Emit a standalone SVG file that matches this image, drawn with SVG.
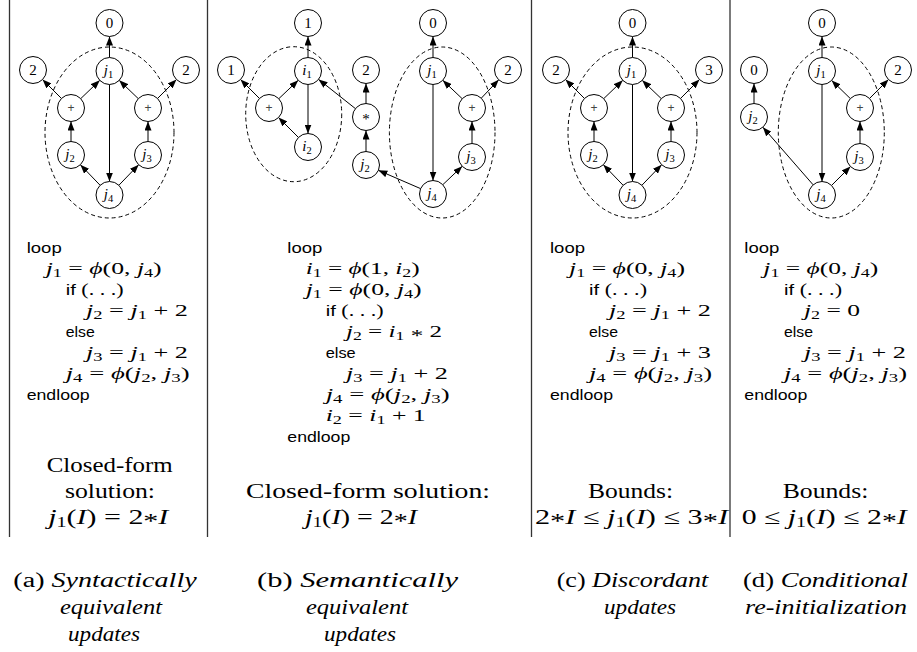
<svg xmlns="http://www.w3.org/2000/svg" width="917" height="652" viewBox="0 0 917 652">
<defs>
<marker id="ah" viewBox="0 0 9 7" refX="9" refY="3.5" markerWidth="9" markerHeight="7" markerUnits="userSpaceOnUse" orient="auto"><path d="M0,0 L9,3.5 L0,7 z" fill="#000"/></marker>
<style>
.node circle{fill:#fff;stroke:#000;stroke-width:1}
.node text{font-family:"Liberation Serif",serif;font-size:15px;text-anchor:middle;fill:#000}
.node text.op{font-family:"Liberation Sans",sans-serif;font-size:12px;fill:#444}
.edges line{stroke:#000;stroke-width:1;marker-end:url(#ah)}
.loopset{fill:none;stroke:#000;stroke-width:1;stroke-dasharray:4 3}
.divider{stroke:#333;stroke-width:1.3}
.mi{font-style:italic}
.sb{font-size:10.5px}
.code{font-family:"Liberation Serif",serif;font-size:17px;fill:#000}
.code .sb{font-size:12px}
.kw{font-family:"Liberation Sans",sans-serif;font-size:15.5px}
.big{font-family:"Liberation Serif",serif;font-size:21px;fill:#000}
.big .sb{font-size:14px}
.cap{font-family:"Liberation Serif",serif;font-size:20px;fill:#000}
</style>
</defs>
<rect width="917" height="652" fill="#fff"/>

<g id="dividers">
<line class="divider" x1="9.5" y1="0" x2="9.5" y2="537"/>
<line class="divider" x1="207.5" y1="0" x2="207.5" y2="537"/>
<line class="divider" x1="531.5" y1="0" x2="531.5" y2="537"/>
<line class="divider" x1="730" y1="0" x2="730" y2="537"/>
</g>

<g id="loop-sets">
<ellipse class="loopset" cx="109.5" cy="132.5" rx="64.5" ry="85.5"/>
<ellipse class="loopset" cx="293.7" cy="114.2" rx="48" ry="67.5"/>
<ellipse class="loopset" cx="442.2" cy="132.5" rx="52.8" ry="85.5"/>
<ellipse class="loopset" cx="632.5" cy="132.5" rx="64.5" ry="85.5"/>
<ellipse class="loopset" cx="831.3" cy="132.5" rx="53" ry="85.5"/>
</g>

<g id="connectors" class="edges">
<g id="edges-a">
<line x1="109.5" y1="57.5" x2="109.5" y2="36.5"/>
<line x1="109.5" y1="84.5" x2="109.5" y2="181.5"/>
<line x1="61.45" y1="98.45" x2="42.55" y2="79.55"/>
<line x1="80.73" y1="98.64" x2="99.77" y2="80.36"/>
<line x1="138.27" y1="98.64" x2="119.23" y2="80.36"/>
<line x1="157.55" y1="98.45" x2="176.45" y2="79.55"/>
<line x1="71" y1="141.5" x2="71" y2="121.5"/>
<line x1="148" y1="141.5" x2="148" y2="121.5"/>
<line x1="100.14" y1="185.27" x2="80.36" y2="164.73"/>
<line x1="118.86" y1="185.27" x2="138.64" y2="164.73"/>
</g>
<g id="edges-b">
<line x1="308" y1="57.5" x2="308" y2="36.5"/>
<line x1="308" y1="84.5" x2="308" y2="133.5"/>
<line x1="259.45" y1="98.45" x2="240.55" y2="79.55"/>
<line x1="278.79" y1="98.71" x2="298.21" y2="80.29"/>
<line x1="298.45" y1="137.45" x2="278.55" y2="117.55"/>
<line x1="355.42" y1="108.61" x2="318.58" y2="79.39"/>
<line x1="366" y1="103.5" x2="366" y2="83.5"/>
<line x1="366" y1="151.5" x2="366" y2="130.5"/>
<line x1="420.61" y1="188.64" x2="378.39" y2="170.36"/>
<line x1="433" y1="57.5" x2="433" y2="36.5"/>
<line x1="433" y1="84.5" x2="433" y2="180.5"/>
<line x1="462.21" y1="98.71" x2="442.79" y2="80.29"/>
<line x1="481.28" y1="98.2" x2="498.72" y2="79.8"/>
<line x1="472" y1="143.5" x2="472" y2="121.5"/>
<line x1="442.79" y1="184.71" x2="462.21" y2="166.29"/>
</g>
<g id="edges-c" transform="translate(523,0)">
<line x1="109.5" y1="57.5" x2="109.5" y2="36.5"/>
<line x1="109.5" y1="84.5" x2="109.5" y2="181.5"/>
<line x1="61.45" y1="98.45" x2="42.55" y2="79.55"/>
<line x1="80.73" y1="98.64" x2="99.77" y2="80.36"/>
<line x1="138.27" y1="98.64" x2="119.23" y2="80.36"/>
<line x1="157.55" y1="98.45" x2="176.45" y2="79.55"/>
<line x1="71" y1="141.5" x2="71" y2="121.5"/>
<line x1="148" y1="141.5" x2="148" y2="121.5"/>
<line x1="100.14" y1="185.27" x2="80.36" y2="164.73"/>
<line x1="118.86" y1="185.27" x2="138.64" y2="164.73"/>
</g>
<g id="edges-d">
<line x1="822" y1="57.5" x2="822" y2="36.5"/>
<line x1="822" y1="84.5" x2="822" y2="181.5"/>
<line x1="754" y1="103.5" x2="754" y2="83.5"/>
<line x1="850.33" y1="98.58" x2="831.67" y2="80.42"/>
<line x1="869.55" y1="98.45" x2="888.45" y2="79.55"/>
<line x1="860" y1="143.5" x2="860" y2="121.5"/>
<line x1="831.55" y1="185.45" x2="850.45" y2="166.55"/>
<line x1="813.13" y1="184.82" x2="762.87" y2="127.18"/>
</g>
</g>

<!-- panel a nodes -->
<g id="a-c0" class="node" transform="translate(109.5,23)"><circle r="13.5"/><text y="5">0</text></g>
<g id="a-j1" class="node" transform="translate(109.5,71)"><circle r="13.5"/><text x="-1" y="4"><tspan class="mi">j</tspan><tspan class="sb" dy="3">1</tspan></text></g>
<g id="a-c2l" class="node" transform="translate(33,70)"><circle r="13.5"/><text y="5">2</text></g>
<g id="a-c2r" class="node" transform="translate(186,70)"><circle r="13.5"/><text y="5">2</text></g>
<g id="a-plusl" class="node" transform="translate(71,108)"><circle r="13.5"/><text class="op" y="4">+</text></g>
<g id="a-plusr" class="node" transform="translate(148,108)"><circle r="13.5"/><text class="op" y="4">+</text></g>
<g id="a-j2" class="node" transform="translate(71,155)"><circle r="13.5"/><text x="-1" y="4"><tspan class="mi">j</tspan><tspan class="sb" dy="3">2</tspan></text></g>
<g id="a-j3" class="node" transform="translate(148,155)"><circle r="13.5"/><text x="-1" y="4"><tspan class="mi">j</tspan><tspan class="sb" dy="3">3</tspan></text></g>
<g id="a-j4" class="node" transform="translate(109.5,195)"><circle r="13.5"/><text x="-1" y="4"><tspan class="mi">j</tspan><tspan class="sb" dy="3">4</tspan></text></g>

<!-- panel b nodes -->
<g id="b-c1top" class="node" transform="translate(308,23)"><circle r="13.5"/><text y="5">1</text></g>
<g id="b-c1l" class="node" transform="translate(231,70)"><circle r="13.5"/><text y="5">1</text></g>
<g id="b-i1" class="node" transform="translate(308,71)"><circle r="13.5"/><text x="-1" y="4"><tspan class="mi">i</tspan><tspan class="sb" dy="3">1</tspan></text></g>
<g id="b-plusl" class="node" transform="translate(269,108)"><circle r="13.5"/><text class="op" y="4">+</text></g>
<g id="b-i2" class="node" transform="translate(308,147)"><circle r="13.5"/><text x="-1" y="4"><tspan class="mi">i</tspan><tspan class="sb" dy="3">2</tspan></text></g>
<g id="b-c2" class="node" transform="translate(366,70)"><circle r="13.5"/><text y="5">2</text></g>
<g id="b-times" class="node" transform="translate(366,117)"><circle r="13.5"/><text y="7">*</text></g>
<g id="b-j2" class="node" transform="translate(366,165)"><circle r="13.5"/><text x="-1" y="4"><tspan class="mi">j</tspan><tspan class="sb" dy="3">2</tspan></text></g>
<g id="b-c0" class="node" transform="translate(433,23)"><circle r="13.5"/><text y="5">0</text></g>
<g id="b-j1" class="node" transform="translate(433,71)"><circle r="13.5"/><text x="-1" y="4"><tspan class="mi">j</tspan><tspan class="sb" dy="3">1</tspan></text></g>
<g id="b-c2r" class="node" transform="translate(508,70)"><circle r="13.5"/><text y="5">2</text></g>
<g id="b-plusr" class="node" transform="translate(472,108)"><circle r="13.5"/><text class="op" y="4">+</text></g>
<g id="b-j3" class="node" transform="translate(472,157)"><circle r="13.5"/><text x="-1" y="4"><tspan class="mi">j</tspan><tspan class="sb" dy="3">3</tspan></text></g>
<g id="b-j4" class="node" transform="translate(433,194)"><circle r="13.5"/><text x="-1" y="4"><tspan class="mi">j</tspan><tspan class="sb" dy="3">4</tspan></text></g>

<!-- panel c nodes -->
<g id="c-c0" class="node" transform="translate(632.5,23)"><circle r="13.5"/><text y="5">0</text></g>
<g id="c-j1" class="node" transform="translate(632.5,71)"><circle r="13.5"/><text x="-1" y="4"><tspan class="mi">j</tspan><tspan class="sb" dy="3">1</tspan></text></g>
<g id="c-c2" class="node" transform="translate(556,70)"><circle r="13.5"/><text y="5">2</text></g>
<g id="c-c3" class="node" transform="translate(709,70)"><circle r="13.5"/><text y="5">3</text></g>
<g id="c-plusl" class="node" transform="translate(594,108)"><circle r="13.5"/><text class="op" y="4">+</text></g>
<g id="c-plusr" class="node" transform="translate(671,108)"><circle r="13.5"/><text class="op" y="4">+</text></g>
<g id="c-j2" class="node" transform="translate(594,155)"><circle r="13.5"/><text x="-1" y="4"><tspan class="mi">j</tspan><tspan class="sb" dy="3">2</tspan></text></g>
<g id="c-j3" class="node" transform="translate(671,155)"><circle r="13.5"/><text x="-1" y="4"><tspan class="mi">j</tspan><tspan class="sb" dy="3">3</tspan></text></g>
<g id="c-j4" class="node" transform="translate(632.5,195)"><circle r="13.5"/><text x="-1" y="4"><tspan class="mi">j</tspan><tspan class="sb" dy="3">4</tspan></text></g>

<!-- panel d nodes -->
<g id="d-c0top" class="node" transform="translate(822,23)"><circle r="13.5"/><text y="5">0</text></g>
<g id="d-j1" class="node" transform="translate(822,71)"><circle r="13.5"/><text x="-1" y="4"><tspan class="mi">j</tspan><tspan class="sb" dy="3">1</tspan></text></g>
<g id="d-c0l" class="node" transform="translate(754,70)"><circle r="13.5"/><text y="5">0</text></g>
<g id="d-j2" class="node" transform="translate(754,117)"><circle r="13.5"/><text x="-1" y="4"><tspan class="mi">j</tspan><tspan class="sb" dy="3">2</tspan></text></g>
<g id="d-c2" class="node" transform="translate(898,70)"><circle r="13.5"/><text y="5">2</text></g>
<g id="d-plus" class="node" transform="translate(860,108)"><circle r="13.5"/><text class="op" y="4">+</text></g>
<g id="d-j3" class="node" transform="translate(860,157)"><circle r="13.5"/><text x="-1" y="4"><tspan class="mi">j</tspan><tspan class="sb" dy="3">3</tspan></text></g>
<g id="d-j4" class="node" transform="translate(822,195)"><circle r="13.5"/><text x="-1" y="4"><tspan class="mi">j</tspan><tspan class="sb" dy="3">4</tspan></text></g>

<!-- code listings -->
<g id="code-a" class="code">
<text x="26.7" y="253" textLength="35" lengthAdjust="spacingAndGlyphs"><tspan class="kw">loop</tspan></text>
<text x="45.7" y="274" textLength="116" lengthAdjust="spacingAndGlyphs"><tspan class="mi">j</tspan><tspan class="sb" dy="3">1</tspan><tspan dy="-3"> = </tspan><tspan class="mi">ϕ</tspan>(0, <tspan class="mi">j</tspan><tspan class="sb" dy="3">4</tspan><tspan dy="-3">)</tspan></text>
<text x="65.7" y="295" textLength="58" lengthAdjust="spacingAndGlyphs"><tspan class="kw">if </tspan>(. . .)</text>
<text x="86" y="316" textLength="102" lengthAdjust="spacingAndGlyphs"><tspan class="mi">j</tspan><tspan class="sb" dy="3">2</tspan><tspan dy="-3"> = </tspan><tspan class="mi">j</tspan><tspan class="sb" dy="3">1</tspan><tspan dy="-3"> + 2</tspan></text>
<text x="65.7" y="337" textLength="29" lengthAdjust="spacingAndGlyphs"><tspan class="kw">else</tspan></text>
<text x="86" y="358" textLength="102" lengthAdjust="spacingAndGlyphs"><tspan class="mi">j</tspan><tspan class="sb" dy="3">3</tspan><tspan dy="-3"> = </tspan><tspan class="mi">j</tspan><tspan class="sb" dy="3">1</tspan><tspan dy="-3"> + 2</tspan></text>
<text x="65.7" y="379" textLength="124" lengthAdjust="spacingAndGlyphs"><tspan class="mi">j</tspan><tspan class="sb" dy="3">4</tspan><tspan dy="-3"> = </tspan><tspan class="mi">ϕ</tspan>(<tspan class="mi">j</tspan><tspan class="sb" dy="3">2</tspan><tspan dy="-3">, </tspan><tspan class="mi">j</tspan><tspan class="sb" dy="3">3</tspan><tspan dy="-3">)</tspan></text>
<text x="26.7" y="400" textLength="63" lengthAdjust="spacingAndGlyphs"><tspan class="kw">endloop</tspan></text>
</g>

<g id="code-b" class="code">
<text x="287.3" y="253" textLength="35" lengthAdjust="spacingAndGlyphs"><tspan class="kw">loop</tspan></text>
<text x="305.7" y="274" textLength="114" lengthAdjust="spacingAndGlyphs"><tspan class="mi">i</tspan><tspan class="sb" dy="3">1</tspan><tspan dy="-3"> = </tspan><tspan class="mi">ϕ</tspan>(1, <tspan class="mi">i</tspan><tspan class="sb" dy="3">2</tspan><tspan dy="-3">)</tspan></text>
<text x="305.7" y="295" textLength="116" lengthAdjust="spacingAndGlyphs"><tspan class="mi">j</tspan><tspan class="sb" dy="3">1</tspan><tspan dy="-3"> = </tspan><tspan class="mi">ϕ</tspan>(0, <tspan class="mi">j</tspan><tspan class="sb" dy="3">4</tspan><tspan dy="-3">)</tspan></text>
<text x="325.7" y="316" textLength="58" lengthAdjust="spacingAndGlyphs"><tspan class="kw">if </tspan>(. . .)</text>
<text x="346" y="337" textLength="96" lengthAdjust="spacingAndGlyphs"><tspan class="mi">j</tspan><tspan class="sb" dy="3">2</tspan><tspan dy="-3"> = </tspan><tspan class="mi">i</tspan><tspan class="sb" dy="3">1</tspan><tspan dy="-3"> </tspan><tspan dy="4">*</tspan><tspan dy="-4"> 2</tspan></text>
<text x="325.7" y="358" textLength="30" lengthAdjust="spacingAndGlyphs"><tspan class="kw">else</tspan></text>
<text x="346" y="379" textLength="102" lengthAdjust="spacingAndGlyphs"><tspan class="mi">j</tspan><tspan class="sb" dy="3">3</tspan><tspan dy="-3"> = </tspan><tspan class="mi">j</tspan><tspan class="sb" dy="3">1</tspan><tspan dy="-3"> + 2</tspan></text>
<text x="325.7" y="400" textLength="124" lengthAdjust="spacingAndGlyphs"><tspan class="mi">j</tspan><tspan class="sb" dy="3">4</tspan><tspan dy="-3"> = </tspan><tspan class="mi">ϕ</tspan>(<tspan class="mi">j</tspan><tspan class="sb" dy="3">2</tspan><tspan dy="-3">, </tspan><tspan class="mi">j</tspan><tspan class="sb" dy="3">3</tspan><tspan dy="-3">)</tspan></text>
<text x="325.7" y="421" textLength="100" lengthAdjust="spacingAndGlyphs"><tspan class="mi">i</tspan><tspan class="sb" dy="3">2</tspan><tspan dy="-3"> = </tspan><tspan class="mi">i</tspan><tspan class="sb" dy="3">1</tspan><tspan dy="-3"> + 1</tspan></text>
<text x="287.3" y="442" textLength="63" lengthAdjust="spacingAndGlyphs"><tspan class="kw">endloop</tspan></text>
</g>

<g id="code-c" class="code">
<text x="550" y="253" textLength="35" lengthAdjust="spacingAndGlyphs"><tspan class="kw">loop</tspan></text>
<text x="569" y="274" textLength="116" lengthAdjust="spacingAndGlyphs"><tspan class="mi">j</tspan><tspan class="sb" dy="3">1</tspan><tspan dy="-3"> = </tspan><tspan class="mi">ϕ</tspan>(0, <tspan class="mi">j</tspan><tspan class="sb" dy="3">4</tspan><tspan dy="-3">)</tspan></text>
<text x="589" y="295" textLength="58" lengthAdjust="spacingAndGlyphs"><tspan class="kw">if </tspan>(. . .)</text>
<text x="609" y="316" textLength="102" lengthAdjust="spacingAndGlyphs"><tspan class="mi">j</tspan><tspan class="sb" dy="3">2</tspan><tspan dy="-3"> = </tspan><tspan class="mi">j</tspan><tspan class="sb" dy="3">1</tspan><tspan dy="-3"> + 2</tspan></text>
<text x="589" y="337" textLength="29" lengthAdjust="spacingAndGlyphs"><tspan class="kw">else</tspan></text>
<text x="609" y="358" textLength="102" lengthAdjust="spacingAndGlyphs"><tspan class="mi">j</tspan><tspan class="sb" dy="3">3</tspan><tspan dy="-3"> = </tspan><tspan class="mi">j</tspan><tspan class="sb" dy="3">1</tspan><tspan dy="-3"> + 3</tspan></text>
<text x="589" y="379" textLength="123" lengthAdjust="spacingAndGlyphs"><tspan class="mi">j</tspan><tspan class="sb" dy="3">4</tspan><tspan dy="-3"> = </tspan><tspan class="mi">ϕ</tspan>(<tspan class="mi">j</tspan><tspan class="sb" dy="3">2</tspan><tspan dy="-3">, </tspan><tspan class="mi">j</tspan><tspan class="sb" dy="3">3</tspan><tspan dy="-3">)</tspan></text>
<text x="550" y="400" textLength="63" lengthAdjust="spacingAndGlyphs"><tspan class="kw">endloop</tspan></text>
</g>

<g id="code-d" class="code">
<text x="744.3" y="253" textLength="35" lengthAdjust="spacingAndGlyphs"><tspan class="kw">loop</tspan></text>
<text x="763.3" y="274" textLength="115" lengthAdjust="spacingAndGlyphs"><tspan class="mi">j</tspan><tspan class="sb" dy="3">1</tspan><tspan dy="-3"> = </tspan><tspan class="mi">ϕ</tspan>(0, <tspan class="mi">j</tspan><tspan class="sb" dy="3">4</tspan><tspan dy="-3">)</tspan></text>
<text x="784" y="295" textLength="58" lengthAdjust="spacingAndGlyphs"><tspan class="kw">if </tspan>(. . .)</text>
<text x="804" y="316" textLength="56" lengthAdjust="spacingAndGlyphs"><tspan class="mi">j</tspan><tspan class="sb" dy="3">2</tspan><tspan dy="-3"> = 0</tspan></text>
<text x="784" y="337" textLength="29" lengthAdjust="spacingAndGlyphs"><tspan class="kw">else</tspan></text>
<text x="804" y="358" textLength="102" lengthAdjust="spacingAndGlyphs"><tspan class="mi">j</tspan><tspan class="sb" dy="3">3</tspan><tspan dy="-3"> = </tspan><tspan class="mi">j</tspan><tspan class="sb" dy="3">1</tspan><tspan dy="-3"> + 2</tspan></text>
<text x="784" y="379" textLength="123" lengthAdjust="spacingAndGlyphs"><tspan class="mi">j</tspan><tspan class="sb" dy="3">4</tspan><tspan dy="-3"> = </tspan><tspan class="mi">ϕ</tspan>(<tspan class="mi">j</tspan><tspan class="sb" dy="3">2</tspan><tspan dy="-3">, </tspan><tspan class="mi">j</tspan><tspan class="sb" dy="3">3</tspan><tspan dy="-3">)</tspan></text>
<text x="744.3" y="400" textLength="63" lengthAdjust="spacingAndGlyphs"><tspan class="kw">endloop</tspan></text>
</g>

<!-- results -->
<g id="result-a" class="big">
<text x="46.7" y="472" textLength="126" lengthAdjust="spacingAndGlyphs">Closed-form</text>
<text x="65" y="498" textLength="90" lengthAdjust="spacingAndGlyphs">solution:</text>
<text x="48.3" y="524" textLength="120" lengthAdjust="spacingAndGlyphs"><tspan class="mi">j</tspan><tspan class="sb" dy="3">1</tspan><tspan dy="-3">(</tspan><tspan class="mi">I</tspan>) = 2<tspan dy="4">*</tspan><tspan dy="-4" class="mi">I</tspan></text>
</g>
<g id="result-b" class="big">
<text x="246" y="498" textLength="244" lengthAdjust="spacingAndGlyphs">Closed-form solution:</text>
<text x="305" y="524" textLength="112" lengthAdjust="spacingAndGlyphs"><tspan class="mi">j</tspan><tspan class="sb" dy="3">1</tspan><tspan dy="-3">(</tspan><tspan class="mi">I</tspan>) = 2<tspan dy="4">*</tspan><tspan dy="-4" class="mi">I</tspan></text>
</g>
<g id="result-c" class="big">
<text x="588" y="498" textLength="85" lengthAdjust="spacingAndGlyphs">Bounds:</text>
<text x="535" y="524" textLength="193" lengthAdjust="spacingAndGlyphs">2<tspan dy="4">*</tspan><tspan dy="-4" class="mi">I</tspan> ≤ <tspan class="mi">j</tspan><tspan class="sb" dy="3">1</tspan><tspan dy="-3">(</tspan><tspan class="mi">I</tspan>) ≤ 3<tspan dy="4">*</tspan><tspan dy="-4" class="mi">I</tspan></text>
</g>
<g id="result-d" class="big">
<text x="782.7" y="498" textLength="85.6" lengthAdjust="spacingAndGlyphs">Bounds:</text>
<text x="741.7" y="524" textLength="165" lengthAdjust="spacingAndGlyphs">0 ≤ <tspan class="mi">j</tspan><tspan class="sb" dy="3">1</tspan><tspan dy="-3">(</tspan><tspan class="mi">I</tspan>) ≤ 2<tspan dy="4">*</tspan><tspan dy="-4" class="mi">I</tspan></text>
</g>

<!-- captions -->
<g id="caption-a" class="cap">
<text x="13.3" y="587" textLength="183.4" lengthAdjust="spacingAndGlyphs">(a) <tspan class="mi">Syntactically</tspan></text>
<text x="60" y="614" textLength="102" lengthAdjust="spacingAndGlyphs" class="mi">equivalent</text>
<text x="68" y="641" textLength="72" lengthAdjust="spacingAndGlyphs" class="mi">updates</text>
</g>
<g id="caption-b" class="cap">
<text x="257" y="587" textLength="201" lengthAdjust="spacingAndGlyphs">(b) <tspan class="mi">Semantically</tspan></text>
<text x="306" y="614" textLength="102" lengthAdjust="spacingAndGlyphs" class="mi">equivalent</text>
<text x="324" y="641" textLength="72" lengthAdjust="spacingAndGlyphs" class="mi">updates</text>
</g>
<g id="caption-c" class="cap">
<text x="556.7" y="587" textLength="151.6" lengthAdjust="spacingAndGlyphs">(c) <tspan class="mi">Discordant</tspan></text>
<text x="604" y="614" textLength="72" lengthAdjust="spacingAndGlyphs" class="mi">updates</text>
</g>
<g id="caption-d" class="cap">
<text x="743" y="587" textLength="165" lengthAdjust="spacingAndGlyphs">(d) <tspan class="mi">Conditional</tspan></text>
<text x="745" y="614" textLength="162" lengthAdjust="spacingAndGlyphs" class="mi">re-initialization</text>
</g>
</svg>
